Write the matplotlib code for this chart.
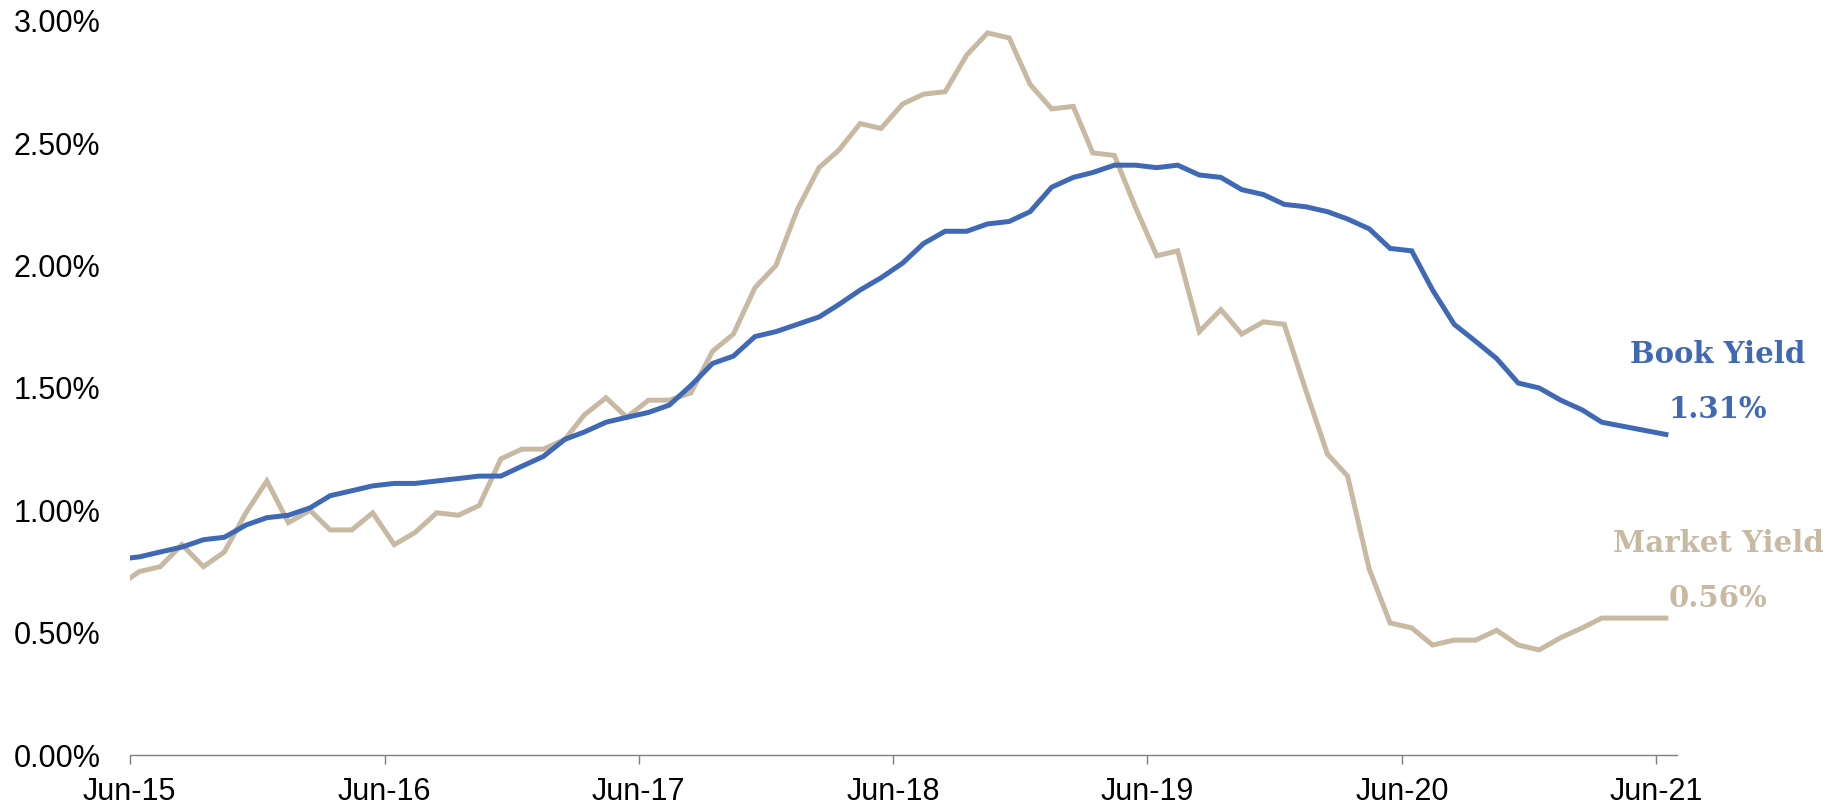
import pandas as pd
import matplotlib
matplotlib.use('Agg')
import matplotlib.pyplot as plt
import matplotlib.dates as mdates
from matplotlib.ticker import FuncFormatter

# Monthly yields (%), mid-month points; Apr/May-21 not reported
book_yield = [0.80, 0.81, 0.83, 0.85, 0.88, 0.89, 0.94, 0.97, 0.98, 1.01,
              1.06, 1.08, 1.10, 1.11, 1.11, 1.12, 1.13, 1.14, 1.14, 1.18,
              1.22, 1.29, 1.32, 1.36, 1.38, 1.40, 1.43, 1.51, 1.60, 1.63,
              1.71, 1.73, 1.76, 1.79, 1.84, 1.90, 1.95, 2.01, 2.09, 2.14,
              2.14, 2.17, 2.18, 2.22, 2.32, 2.36, 2.38, 2.41, 2.41, 2.40,
              2.41, 2.37, 2.36, 2.31, 2.29, 2.25, 2.24, 2.22, 2.19, 2.15,
              2.07, 2.06, 1.90, 1.76, 1.69, 1.62, 1.52, 1.50, 1.45, 1.41,
              1.36, 1.31]
market_yield = [0.69, 0.75, 0.77, 0.86, 0.77, 0.83, 0.99, 1.12, 0.95, 1.00,
                0.92, 0.92, 0.99, 0.86, 0.91, 0.99, 0.98, 1.02, 1.21, 1.25,
                1.25, 1.29, 1.39, 1.46, 1.38, 1.45, 1.45, 1.48, 1.65, 1.72,
                1.91, 2.00, 2.23, 2.40, 2.47, 2.58, 2.56, 2.66, 2.70, 2.71,
                2.86, 2.95, 2.93, 2.74, 2.64, 2.65, 2.46, 2.45, 2.24, 2.04,
                2.06, 1.73, 1.82, 1.72, 1.77, 1.76, 1.49, 1.23, 1.14, 0.76,
                0.54, 0.52, 0.45, 0.47, 0.47, 0.51, 0.45, 0.43, 0.48, 0.52,
                0.56, 0.56]
dates = list(pd.date_range('2015-05-01', periods=71, freq='MS') + pd.Timedelta(days=14))
dates.append(pd.Timestamp('2021-06-15'))

tick_dates = pd.date_range('2015-06-01', '2021-06-01', freq='12MS')
y_ticks = [0.0, 0.5, 1.0, 1.5, 2.0, 2.5, 3.0]

blue = '#4069B5'
tan = '#C8B9A3'

plt.rcParams['font.family'] = ['Liberation Sans', 'DejaVu Sans']

fig = plt.figure(figsize=(18.31, 8.10), dpi=100)
ax = fig.add_axes([0.0708, 0.0677, 0.8451, 0.9067])

ax.plot(dates, market_yield, color=tan, linewidth=3.6, solid_joinstyle='miter', zorder=2)
ax.plot(dates, book_yield, color=blue, linewidth=3.6, solid_joinstyle='miter', zorder=3)

ax.set_xlim(pd.Timestamp('2015-06-01'), pd.Timestamp('2021-07-01'))
ax.set_ylim(0, 3.0)
ax.set_yticks(y_ticks)
ax.yaxis.set_major_formatter(FuncFormatter(lambda v, p: f'{v:.2f}%'))
ax.set_xticks(tick_dates)
ax.xaxis.set_major_formatter(mdates.DateFormatter('%b-%y'))

for s in ['top', 'right', 'left']:
    ax.spines[s].set_visible(False)
ax.spines['bottom'].set_color('#7F7F7F')
ax.spines['bottom'].set_linewidth(1.0)
ax.tick_params(axis='y', length=0, pad=21, labelsize=22, colors='black')
ax.tick_params(axis='x', length=6.5, width=1.0, color='#7F7F7F', pad=9,
               labelsize=22, labelcolor='black')

lbl = dict(transform=ax.transAxes, ha='center', va='baseline', fontsize=21,
           fontweight='bold', family='DejaVu Serif', clip_on=False)
ax.text(1.0265, 0.534, 'Book Yield', color=blue, **lbl)
ax.text(1.0265, 0.459, f'{book_yield[-1]:.2f}%', color=blue, **lbl)
ax.text(1.0265, 0.277, 'Market Yield', color=tan, **lbl)
ax.text(1.0265, 0.202, f'{market_yield[-1]:.2f}%', color=tan, **lbl)

fig.savefig('out.png', dpi=100)
